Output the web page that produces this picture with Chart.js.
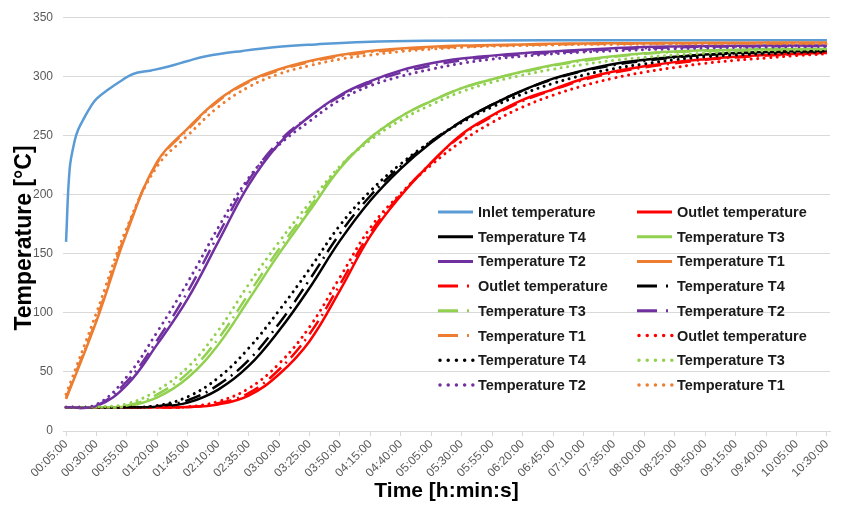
<!DOCTYPE html>
<html>
<head>
<meta charset="utf-8">
<script src="https://cdn.jsdelivr.net/npm/chart.js@4.4.1/dist/chart.umd.min.js"></script>
<style>
  html, body { margin: 0; padding: 0; background: #fff; }
  #wrap { width: 842px; height: 507px; position: relative; }
</style>
</head>
<body>
<div id="wrap"><canvas id="myChart"></canvas></div>
<script>
// Sample times in minutes (x axis is time since start, labels every 25 min)
const timeMin = [5, 30, 55, 80, 105, 130, 155, 180, 205, 230, 255, 280, 305, 330, 355, 380, 405, 430, 455, 480, 505, 530, 555, 580, 605, 630];

// Inlet rises very fast so it gets its own finer time list
const inletTime = [5, 8, 12, 15, 20, 25, 30, 40, 50, 60, 75, 90, 105, 120, 150, 180, 210, 250, 300, 400, 630];
const inletTemp = [160, 222, 245, 255, 265, 274, 281, 289, 296, 302, 305, 308.5, 313, 317, 321.5, 325, 327, 329, 330, 330.5, 330.5];

// Solid lines
const outletSolid = [20, 20, 20, 20, 20.2, 22.5, 30, 48, 76, 119, 165, 199, 227, 251, 267, 280, 289, 298, 304, 308.5, 312, 314.5, 316.5, 318, 319, 320];
const t4Solid = [20, 20, 20, 20.5, 24, 35, 55, 85, 121, 161, 195, 222, 244, 262, 276, 288, 298, 305, 310.5, 314, 316.5, 318.5, 319.8, 320.6, 321.2, 321.5];
const t3Solid = [20, 20, 21, 28.5, 45, 73, 111, 150, 186, 222, 248, 266, 279, 290, 297.5, 304, 309.5, 314, 317, 319.5, 321, 322, 322.5, 323, 323, 323.2];
const t2Solid = [20, 21, 39, 73.5, 112, 160, 208, 243, 266, 284, 296, 305, 311, 315, 317.5, 319.5, 321, 322.5, 323.8, 324.8, 325.3, 325.6, 325.8, 326, 326, 326];
const t1Solid = [27, 93, 168, 228, 256, 280, 296, 306, 313, 318, 321.5, 323.5, 325, 326, 326.5, 327, 327.5, 327.8, 328, 328, 328.2, 328.3, 328.4, 328.5, 328.5, 328.5];

// Long dash - dot lines
const outletDashDot = [20, 20, 20, 20, 20.2, 23.5, 32, 52, 82, 124, 168, 200, 227, 250, 266, 279, 288.5, 297, 303, 307.5, 311, 314, 316, 317.5, 318.7, 319.7];
const t4DashDot = [20, 20, 20, 21, 26, 39, 60, 91, 128, 167, 199, 224, 245, 262, 276, 288, 297.5, 304.5, 309.5, 313, 316, 318, 319.5, 320.3, 321, 321.3];
const t3DashDot = [20, 20, 21.5, 31, 49, 78, 116, 154, 189, 223, 248, 266, 279, 290, 297.5, 303.5, 309, 313, 316.5, 319, 320.5, 321.5, 322, 322.5, 322.8, 323];
const t2DashDot = [20, 21.5, 42, 77, 118, 166, 212, 245, 266, 283, 294.5, 303, 309, 313.5, 316.5, 318.5, 320, 321.5, 322.8, 323.8, 324.5, 325, 325.3, 325.5, 325.6, 325.7];
const t1DashDot = [28, 95, 170, 227, 255, 279, 295, 305, 312, 317, 320.5, 322.5, 324, 325, 326, 326.5, 327, 327.3, 327.5, 327.7, 327.8, 328, 328, 328, 328, 328];

// Round dot lines
const outletDot = [20, 20, 20, 20, 20.5, 25, 36, 57, 88, 130, 172, 201, 225, 245, 261, 274, 284, 292, 298.5, 303.5, 307.5, 311, 313.5, 315.5, 317.5, 319];
const t4Dot = [20, 20, 20, 21.5, 29, 45, 70, 102, 137, 174, 203, 226, 245, 261, 274, 285, 294, 301, 306.5, 310.5, 314, 316.5, 318, 319, 320, 320.5];
const t3Dot = [20, 20.5, 23, 34.5, 54, 85, 124, 160, 193, 224, 246, 263, 276, 287, 295, 301, 306, 310, 313.5, 316, 318, 319.5, 320.5, 321.5, 322, 322.5];
const t2Dot = [20, 22.5, 46, 84, 126, 172, 214, 242, 262, 280, 292, 300, 306, 311, 314.5, 317, 319, 320.5, 321.5, 322.5, 323.3, 324, 324.5, 324.8, 325, 325.2];
const t1Dot = [31, 100, 172, 224, 250, 274, 291, 302, 309, 314.5, 318, 321, 323, 324.5, 325.5, 326, 326.5, 327, 327, 327.2, 327.3, 327.4, 327.5, 327.5, 327.5, 327.5];

// x tick positions (minutes) and y ticks
const tickTimes = timeMin;
const yTicks = [0, 50, 100, 150, 200, 250, 300, 350];

const BLUE = '#5B9BD5', RED = '#FF0000', BLACK = '#000000', GREEN = '#92D050', PURPLE = '#7030A0', ORANGE = '#ED7D31';

// name, times, values, colour, style  (legend order, row by row)
const seriesList = [
    ['Inlet temperature', inletTime, inletTemp, BLUE, 'solid'],
    ['Outlet temperature', timeMin, outletSolid, RED, 'solid'],
    ['Temperature T4', timeMin, t4Solid, BLACK, 'solid'],
    ['Temperature T3', timeMin, t3Solid, GREEN, 'solid'],
    ['Temperature T2', timeMin, t2Solid, PURPLE, 'solid'],
    ['Temperature T1', timeMin, t1Solid, ORANGE, 'solid'],
    ['Outlet temperature', timeMin, outletDashDot, RED, 'dashdot'],
    ['Temperature T4', timeMin, t4DashDot, BLACK, 'dashdot'],
    ['Temperature T3', timeMin, t3DashDot, GREEN, 'dashdot'],
    ['Temperature T2', timeMin, t2DashDot, PURPLE, 'dashdot'],
    ['Temperature T1', timeMin, t1DashDot, ORANGE, 'dashdot'],
    ['Outlet temperature', timeMin, outletDot, RED, 'dot'],
    ['Temperature T4', timeMin, t4Dot, BLACK, 'dot'],
    ['Temperature T3', timeMin, t3Dot, GREEN, 'dot'],
    ['Temperature T2', timeMin, t2Dot, PURPLE, 'dot'],
    ['Temperature T1', timeMin, t1Dot, ORANGE, 'dot']
];

const lineStyles = {
    solid: { borderWidth: 2.5, borderDash: [], borderCapStyle: 'butt' },
    dashdot: { borderWidth: 2.5, borderDash: [16, 6, 2, 6], borderCapStyle: 'butt' },
    dot: { borderWidth: 3, borderDash: [0.01, 6.5], borderCapStyle: 'round' }
};

// legend sample dashes are a bit longer than in the plot
const legendDash = {
    solid: { width: 3, dash: [], cap: 'butt' },
    dashdot: { width: 3, dash: [20, 9, 2, 30], cap: 'butt' },
    dot: { width: 3.5, dash: [0.01, 8.2], cap: 'round' }
};

const FONT = '"Liberation Sans", Arial, sans-serif';

function fmtTime(min) {
    const h = Math.floor(min / 60);
    const m = Math.round(min % 60);
    return String(h).padStart(2, '0') + ':' + String(m).padStart(2, '0') + ':00';
}

const datasets = seriesList.map((s, i) => {
    const st = lineStyles[s[4]];
    return {
        label: s[0],
        data: s[1].map((t, k) => ({ x: t, y: s[2][k] })),
        borderColor: s[3],
        backgroundColor: s[3],
        borderWidth: st.borderWidth,
        borderDash: st.borderDash,
        borderCapStyle: st.borderCapStyle,
        borderJoinStyle: 'round',
        pointRadius: 0,
        fill: false,
        tension: 0.4,
        lineStyle: s[4],
        order: -i // later series on top, like Excel
    };
});

// Legend drawn inside the plot, two columns
const insideLegend = {
    id: 'insideLegend',
    afterDraw(chart) {
        const ctx = chart.ctx;
        ctx.save();
        ctx.font = 'bold 14.5px ' + FONT;
        ctx.textBaseline = 'middle';
        chart.data.datasets.forEach((ds, i) => {
            const col = i % 2;
            const row = Math.floor(i / 2);
            const x = 438 + col * 199;
            const y = 212 + row * 24.7;
            const ls = legendDash[ds.lineStyle];
            ctx.save();
            ctx.strokeStyle = ds.borderColor;
            ctx.lineWidth = ls.width;
            ctx.lineCap = ls.cap;
            ctx.setLineDash(ls.dash);
            ctx.beginPath();
            ctx.moveTo(ds.lineStyle === 'dot' ? x + 2 : x, y);
            ctx.lineTo(x + 35, y);
            ctx.stroke();
            ctx.restore();
            ctx.fillStyle = '#1a1a1a';
            ctx.fillText(ds.label, x + 40, y + 1);
        });
        ctx.restore();
    }
};

// Y axis title, placed a bit below the middle like the original
const yTitle = {
    id: 'yTitle',
    afterDraw(chart) {
        const ctx = chart.ctx;
        ctx.save();
        ctx.translate(25, 238);
        ctx.rotate(-Math.PI / 2);
        ctx.font = 'bold 23px ' + FONT;
        ctx.fillStyle = '#000';
        ctx.textAlign = 'center';
        ctx.textBaseline = 'middle';
        ctx.fillText('Temperature [°C]', 0, 0);
        ctx.restore();
    }
};

document.addEventListener('DOMContentLoaded', function() {
    const ctx = document.getElementById('myChart').getContext('2d');
    new Chart(ctx, {
        type: 'line',
        data: { datasets: datasets },
        plugins: [insideLegend, yTitle],
        options: {
            responsive: true,
            maintainAspectRatio: false,
            animation: false,
            layout: { padding: { top: 16, right: 12, left: 0, bottom: 0 } },
            plugins: {
                legend: { display: false },
                tooltip: { enabled: false }
            },
            scales: {
                x: {
                    type: 'linear',
                    min: 2.5,
                    max: 632.5,
                    afterBuildTicks: function(scale) {
                        scale.ticks = tickTimes.map(v => ({ value: v }));
                    },
                    afterFit: function(scale) { scale.height = 76; },
                    ticks: {
                        autoSkip: false,
                        minRotation: 45,
                        maxRotation: 45,
                        padding: 1,
                        color: '#595959',
                        font: { family: FONT, size: 12 },
                        callback: v => fmtTime(v)
                    },
                    grid: {
                        drawOnChartArea: false,
                        drawTicks: true,
                        tickLength: 5,
                        color: '#d9d9d9'
                    },
                    border: { display: true, color: '#d9d9d9' },
                    title: {
                        display: true,
                        text: 'Time [h:min:s]',
                        color: '#000',
                        font: { family: FONT, size: 21, weight: 'bold' },
                        padding: { top: 0, bottom: 3 }
                    }
                },
                y: {
                    min: 0,
                    max: 350,
                    afterBuildTicks: function(scale) {
                        scale.ticks = yTicks.map(v => ({ value: v }));
                    },
                    afterFit: function(scale) { scale.width = 63; },
                    ticks: {
                        padding: 10,
                        color: '#595959',
                        font: { family: FONT, size: 12 }
                    },
                    grid: {
                        drawTicks: false,
                        color: '#d9d9d9'
                    },
                    border: { display: false },
                    title: { display: false }
                }
            }
        }
    });
});
</script>
</body>
</html>
